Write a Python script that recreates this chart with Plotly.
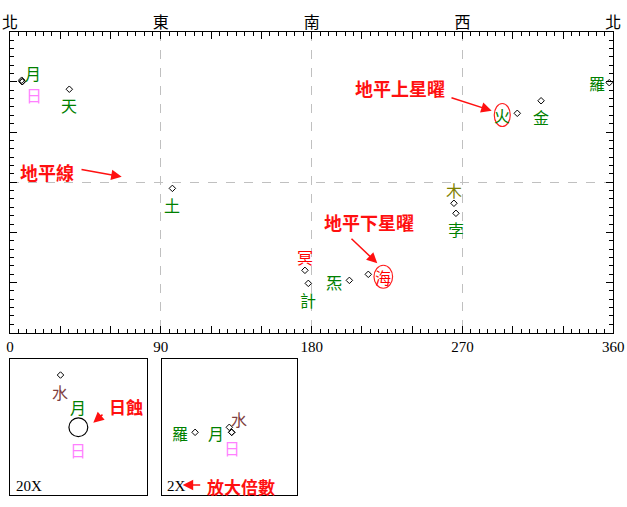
import plotly.graph_objects as go

W, H = 627, 507

# ---------------- data ----------------
# main sky chart: azimuth (deg, 0..360 from north) and altitude (deg)
bodies = ["日", "月", "水", "天", "土", "冥", "計", "炁", "海", "木", "孛", "火", "金", "羅"]
azimuth = [7.3, 7.3, 7.0, 35.4, 96.9, 176.0, 178.0, 202.5, 213.8, 264.9, 266.1, 302.7, 316.9, 357.6]
altitude = [60.1, 60.1, 61.0, 55.6, -3.7, -52.7, -60.5, -58.7, -55.1, -12.6, -18.6, 41.2, 48.7, 59.5]
labels_shown = ["日", "月", "", "天", "土", "冥", "計", "炁", "海", "木", "孛", "火", "金", "羅"]

x_tick_vals = [0, 30, 60, 90, 120, 150, 180, 210, 240, 270, 300, 330, 360]
x_tick_text = ["0", "", "", "90", "", "", "180", "", "", "270", "", "", "360"]
dir_vals = [0, 90, 180, 270, 360]
dir_text = ["北", "東", "南", "西", "北"]
y_tick_vals = [-90, -60, -30, 0, 30, 60, 90]

# inset 1 (20X): offsets from the Sun in degrees
in1_mag = "20X"
in1_bodies = ["水", "月", "日"]
in1_dx = [-0.53, 0.0, 0.0]
in1_dy = [1.56, 0.0, 0.0]
in1_half = 2.03
sun_disk_radius = 0.28

# inset 2 (2X): offsets from inset center in degrees
in2_mag = "2X"
in2_bodies = ["羅", "水", "月", "日"]
in2_dx = [-10.3, -0.06, 0.66, 0.66]
in2_dy = [-1.5, 0.0, -1.5, -1.5]
in2_half = 20.3

# ---------------- styles ----------------
COLORS = {"日": "#FF80FF", "月": "#008000", "水": "#804040", "天": "#008000", "土": "#008000",
          "冥": "#FF0000", "計": "#008000", "炁": "#008000", "海": "#FF0000", "木": "#808000",
          "孛": "#008000", "火": "#008000", "金": "#008000", "羅": "#008000"}
# label offsets from marker, pixels (right, down)
MAIN_OFF = {"日": (11.7, 13.3), "月": (10.7, -9), "水": (0, 0), "天": (0, 15.7), "土": (0, 16.7),
            "冥": (0, -13.6), "計": (0, 16.7), "炁": (-15, 1.4), "海": (15, 2.4), "木": (0, -13.3),
            "孛": (0, 15.7), "火": (-15, 1.7), "金": (0, 16), "羅": (-12.6, 0)}
IN1_OFF = {"水": (-0.7, 17.3), "月": (0, -20.6), "日": (0, 22.7)}
IN2_OFF = {"羅": (-14.7, 1), "水": (10.2, -8.6), "月": (-15.4, 1), "日": (0, 15.6)}

def px(x):
    return x / W

def py(y):
    return 1 - y / H

CJK = "Noto Sans CJK TC"
SERIF = "Liberation Serif, Noto Sans CJK TC"
GRID = "#C0C0C0"
LABEL_SIZE = 16

fig = go.Figure()

diamond = dict(symbol="diamond-open", size=5, color="black", line=dict(width=1, color="black"))

fig.add_trace(go.Scatter(x=azimuth, y=altitude, mode="markers", marker=diamond,
                         xaxis="x", yaxis="y", hoverinfo="skip", showlegend=False, cliponaxis=False))
fig.add_trace(go.Scatter(x=in1_dx[:1], y=in1_dy[:1], mode="markers", marker=diamond,
                         xaxis="x2", yaxis="y2", hoverinfo="skip", showlegend=False))
fig.add_trace(go.Scatter(x=in2_dx, y=in2_dy, mode="markers", marker=diamond,
                         xaxis="x3", yaxis="y3", hoverinfo="skip", showlegend=False))


def label(name, text, x, y, xr, yr, off):
    if not text:
        return
    fig.add_annotation(text=text, x=x, y=y, xref=xr, yref=yr, showarrow=False,
                       xanchor="center", yanchor="middle", xshift=off[0], yshift=-off[1],
                       font=dict(family=CJK, size=LABEL_SIZE, color=COLORS[name]))


for b, t, x, y in zip(bodies, labels_shown, azimuth, altitude):
    label(b, t, x, y, "x", "y", MAIN_OFF[b])
for b, x, y in zip(in1_bodies, in1_dx, in1_dy):
    label(b, b, x, y, "x2", "y2", IN1_OFF[b])
for b, x, y in zip(in2_bodies, in2_dx, in2_dy):
    label(b, b, x, y, "x3", "y3", IN2_OFF[b])

axis_common = dict(showline=True, linecolor="black", linewidth=1, mirror="allticks",
                   ticks="inside", ticklen=7, tickcolor="black", tickwidth=1,
                   showgrid=False, zeroline=False, fixedrange=True,
                   minor=dict(dtick=5, ticks="inside", ticklen=4, tickcolor="black", tickwidth=1, showgrid=False))

inset_axis = dict(showline=True, linecolor="black", linewidth=1, mirror=True, ticks="",
                  showticklabels=False, showgrid=False, zeroline=False, fixedrange=True)

fig.update_layout(
    width=W, height=H,
    margin=dict(l=0, r=0, t=0, b=0, autoexpand=False),
    paper_bgcolor="white", plot_bgcolor="white",
    xaxis=dict(domain=[px(10), px(613.3)], range=[0, 360], tickmode="array",
               tickvals=x_tick_vals, ticktext=x_tick_text,
               tickfont=dict(family=SERIF, size=15, color="black"), anchor="y",
               **axis_common),
    yaxis=dict(domain=[py(332.7), py(31.7)], range=[-90, 90], tickmode="array",
               tickvals=y_tick_vals, showticklabels=False, anchor="x", **axis_common),
    xaxis4=dict(overlaying="x", side="top", anchor="y", range=[0, 360], tickmode="array",
                tickvals=dir_vals, ticktext=dir_text, ticks="", showline=False,
                showgrid=True, gridcolor=GRID, griddash="dash", gridwidth=1, zeroline=False,
                tickfont=dict(family=CJK, size=16, color="black"), fixedrange=True),
    yaxis5=dict(overlaying="y", side="left", anchor="x", range=[-90, 90], tickmode="array",
                tickvals=[0], ticks="", showticklabels=False, showline=False,
                showgrid=True, gridcolor=GRID, griddash="dash", gridwidth=1, zeroline=False,
                fixedrange=True),
    xaxis2=dict(domain=[px(10), px(146.7)], range=[-in1_half, in1_half], anchor="y2", **inset_axis),
    yaxis2=dict(domain=[py(495.3), py(359.3)], range=[-in1_half, in1_half], anchor="x2", **inset_axis),
    xaxis3=dict(domain=[px(161.7), px(297.3)], range=[-in2_half, in2_half], anchor="y3", **inset_axis),
    yaxis3=dict(domain=[py(495.3), py(359.3)], range=[-in2_half, in2_half], anchor="x3", **inset_axis),
)

# invisible trace to activate overlay axes
fig.add_trace(go.Scatter(x=[0], y=[0], xaxis="x4", yaxis="y5", mode="markers",
                         marker=dict(opacity=0), hoverinfo="skip", showlegend=False))

# Sun/Moon disk in the 20X inset
fig.add_shape(type="circle", xref="x2", yref="y2",
              x0=in1_dx[1] - sun_disk_radius, x1=in1_dx[1] + sun_disk_radius,
              y0=in1_dy[1] - sun_disk_radius, y1=in1_dy[1] + sun_disk_radius,
              line=dict(color="black", width=1.2))

# red highlight ellipses around labels 火 and 海
i_fire = bodies.index("火")
i_sea = bodies.index("海")
fig.add_shape(type="circle", xref="x", yref="y", xsizemode="pixel", ysizemode="pixel",
              xanchor=azimuth[i_fire], yanchor=altitude[i_fire],
              x0=-23, x1=-7, y0=-13.2, y1=9.8, line=dict(color="#FF2020", width=1.2))
fig.add_shape(type="circle", xref="x", yref="y", xsizemode="pixel", ysizemode="pixel",
              xanchor=azimuth[i_sea], yanchor=altitude[i_sea],
              x0=5.7, x1=24.3, y0=-13.9, y1=9.1, line=dict(color="#FF2020", width=1.2))

RED = "#FF1010"

def note(text, x, y, size=18):
    fig.add_annotation(text=f"<b>{text}</b>", xref="paper", yref="paper", x=px(x), y=py(y),
                       xanchor="center", yanchor="middle", showarrow=False,
                       font=dict(family=CJK, size=size, color=RED))

def arrow(x0, y0, x1, y1):
    fig.add_annotation(text="", xref="paper", yref="paper", x=px(x1), y=py(y1),
                       ax=x0 - x1, ay=y0 - y1, axref="pixel", ayref="pixel",
                       showarrow=True, arrowhead=2, arrowsize=1.4, arrowwidth=1.5,
                       arrowcolor=RED, standoff=0, startstandoff=0)

note("地平線", 46.5, 171.7)
arrow(80, 169.3, 121.7, 176.7)
note("地平上星曜", 399.5, 88)
arrow(450, 97.3, 491.7, 110.7)
note("地平下星曜", 368.5, 221.7)
arrow(350, 237.3, 377.3, 263.3)
note("日蝕", 126.3, 406.7, 17)
arrow(104, 413.3, 93.3, 422.7)
note("放大倍數", 241.3, 486, 17)
arrow(201.7, 485, 182.7, 485)

fig.add_annotation(text=in1_mag, xref="paper", yref="paper", x=px(14), y=py(486),
                   xanchor="left", yanchor="middle", showarrow=False,
                   font=dict(family=SERIF, size=15, color="black"))
fig.add_annotation(text=in2_mag, xref="paper", yref="paper", x=px(165), y=py(486),
                   xanchor="left", yanchor="middle", showarrow=False,
                   font=dict(family=SERIF, size=15, color="black"))

fig.write_html("out.html")
